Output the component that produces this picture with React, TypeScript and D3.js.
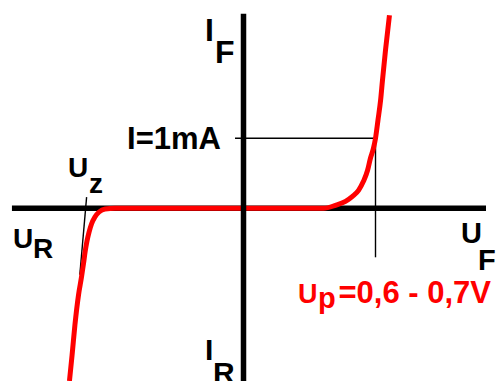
import React from 'react';
import * as d3 from 'd3';

// Diode characteristic, voltage in volts and current in mA
const forwardU = [0.424, 0.488, 0.541, 0.578, 0.61, 0.636, 0.658, 0.673, 0.689, 0.7, 0.713, 0.727, 0.737, 0.753, 0.774];
const forwardI = [0, 0.043, 0.1, 0.171, 0.257, 0.386, 0.543, 0.714, 0.857, 1.0, 1.257, 1.543, 1.829, 2.257, 2.757];
const reverseU = [-0.923, -0.909, -0.894, -0.875, -0.859, -0.848, -0.84, -0.83, -0.819, -0.806, -0.788, -0.766, -0.734, -0.681];
const reverseI = [-2.467, -2.096, -1.667, -1.239, -0.981, -0.781, -0.624, -0.467, -0.339, -0.224, -0.124, -0.053, -0.01, 0];

// Axis extents
const uExtent = [-1.228, 1.286];
const iExtent = [-2.47, 2.78];

// Reference marks
const refVoltage = 0.7;
const refCurrent = 1;
const refGuideU = [-0.045, refVoltage];
const refGuideI = [refCurrent, -0.7];
const zenerGuideU = [-0.832, -0.868];
const zenerGuideI = [0.16, -0.95];

const FONT = '"Liberation Sans", Arial, Helvetica, sans-serif';

export default function App() {
  const x = d3.scaleLinear().domain([0, refVoltage]).range([243.5, 375.5]);
  const y = d3.scaleLinear().domain([0, refCurrent]).range([208.3, 138.3]);

  const points: [number, number][] = [
    ...reverseU.map((u, i) => [u, reverseI[i]] as [number, number]),
    ...forwardU.map((u, i) => [u, forwardI[i]] as [number, number]),
  ];
  const line = d3
    .line<[number, number]>()
    .x((d) => x(d[0]))
    .y((d) => y(d[1]))
    .curve(d3.curveMonotoneX);

  const textStyle = { fontFamily: FONT, fontWeight: 700 } as const;

  return (
    <svg
      width={500}
      height={381}
      style={{ position: 'absolute', left: 0, top: 0, background: '#fff' }}
    >
      {/* U axis */}
      <line x1={x(uExtent[0])} x2={x(uExtent[1])} y1={y(0)} y2={y(0)} stroke="#000" strokeWidth={5.5} />

      {/* guides */}
      <line x1={x(refGuideU[0])} x2={x(refGuideU[1])} y1={y(refCurrent)} y2={y(refCurrent)} stroke="#000" strokeWidth={1.4} />
      <line x1={x(refVoltage)} x2={x(refVoltage)} y1={y(refGuideI[0])} y2={y(refGuideI[1])} stroke="#000" strokeWidth={1.4} />
      <line x1={x(zenerGuideU[0])} x2={x(zenerGuideU[1])} y1={y(zenerGuideI[0])} y2={y(zenerGuideI[1])} stroke="#000" strokeWidth={1.4} />

      {/* characteristic */}
      <path d={line(points) ?? ''} fill="none" stroke="#ff0000" strokeWidth={5} strokeLinejoin="round" />

      {/* I axis */}
      <line x1={x(0)} x2={x(0)} y1={y(iExtent[1])} y2={y(iExtent[0])} stroke="#000" strokeWidth={5.5} />

      {/* labels */}
      <g style={textStyle} fill="#000">
        <text x={205} y={41} fontSize={32}>I</text>
        <text x={215} y={63} fontSize={32}>F</text>

        <text x={205} y={360} fontSize={30}>I</text>
        <text x={213} y={383} fontSize={30}>R</text>

        <text x={221} y={149} fontSize={31} textAnchor="end">I=1mA</text>

        <text x={68} y={177} fontSize={28}>U</text>
        <text x={89} y={193} fontSize={28}>z</text>

        <text x={13} y={248} fontSize={28}>U</text>
        <text x={33} y={258} fontSize={28}>R</text>

        <text x={461} y={243} fontSize={29}>U</text>
        <text x={478} y={270} fontSize={29}>F</text>
      </g>
      <g style={textStyle} fill="#ff0000">
        <text x={298} y={303} fontSize={27}>U</text>
        <text x={318} y={308} fontSize={29}>p</text>
        <text x={491} y={303} fontSize={31} textAnchor="end">=0,6 - 0,7V</text>
      </g>
    </svg>
  );
}
